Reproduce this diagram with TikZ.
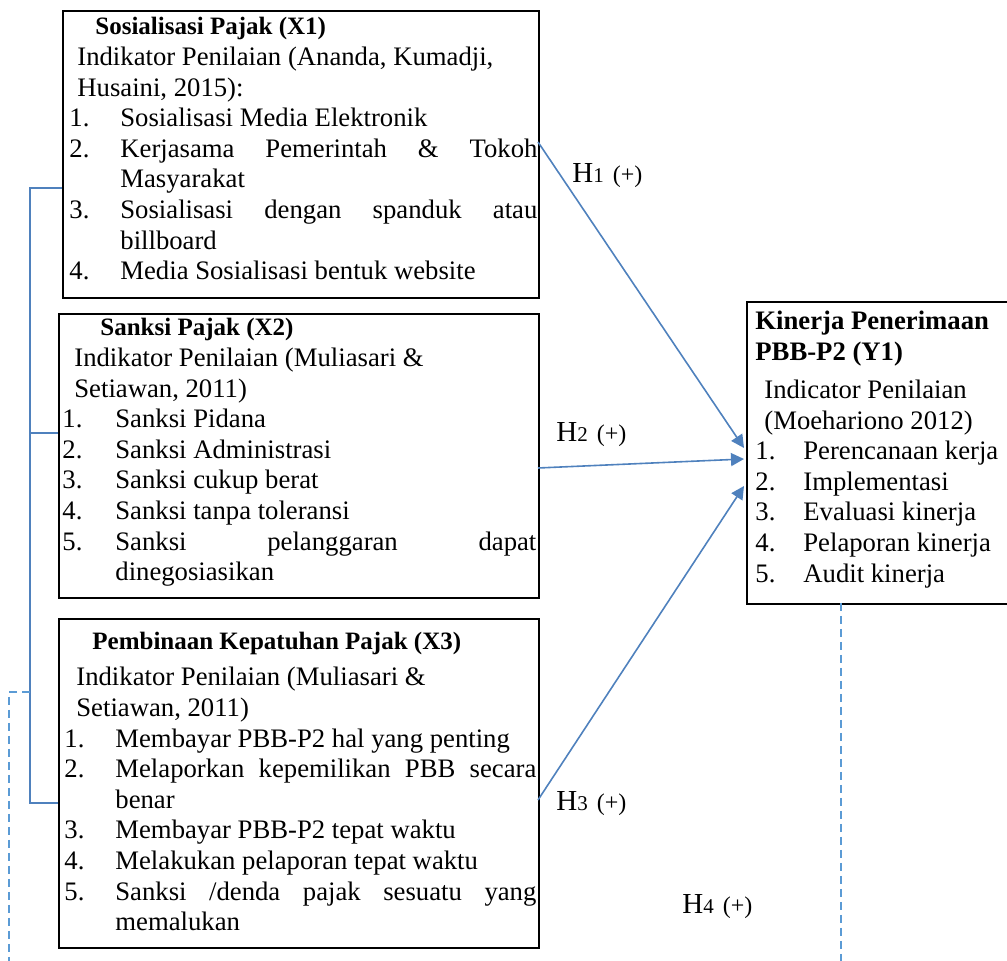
\documentclass[tikz,border=0pt]{standalone}
\usepackage{fontspec}
\setmainfont{Liberation Serif}
\usetikzlibrary{arrows.meta}
\definecolor{arrowblue}{HTML}{4F81BD}
\definecolor{dashblue}{HTML}{5B9BD5}
\newlength{\hangw}
\newcommand{\itm}[2]{\par\hangindent=\hangw\hangafter=1\noindent\makebox[\hangw][l]{#1}#2}
\newcommand{\bodyfont}{\fontsize{13.35}{15.3}\selectfont}
\newcommand{\hyplabel}[1]{{\fontsize{14.5}{15}\selectfont H}{\fontsize{10.5}{15}\selectfont #1}\hspace{4.5pt}{\fontsize{12}{15}\selectfont (+)}}
\tikzset{
  box/.style={draw=black, line width=1pt, inner sep=0pt, anchor=north west},
  txt/.style={inner sep=0pt, anchor=base west},
  link/.style={draw=arrowblue, line width=0.8pt},
  hyp/.style={-{Triangle[length=6.5pt,width=6.5pt]}, draw=arrowblue, line width=0.8pt},
  dashlink/.style={draw=dashblue, line width=0.8pt, dash pattern=on 4pt off 2.5pt},
  hlabel/.style={inner sep=0pt, anchor=west}
}
\begin{document}
\begin{tikzpicture}[x=0.5pt,y=-0.5pt]
\useasboundingbox (0,0) rectangle (1007,961);

% boxes
\node[box, minimum width=238pt, minimum height=143.5pt] (x1) at (62,10) {};
\node[box, minimum width=240pt, minimum height=142pt] (x2) at (58,313) {};
\node[box, minimum width=240pt, minimum height=164.5pt] (x3) at (58,618) {};
\node[box, minimum width=140pt, minimum height=151pt] (y1) at (746,301) {};

% texts
\node[txt] (x1t) at (69,35) {\begin{minipage}[t]{234pt}\setlength{\hangw}{25.5pt}\bodyfont
\hspace*{13pt}{\fontsize{12.5}{15.3}\selectfont\bfseries Sosialisasi Pajak (X1)}\\
\hspace*{4pt}Indikator Penilaian (Ananda, Kumadji,\\
\hspace*{4pt}Husaini, 2015):
\itm{1.}{Sosialisasi Media Elektronik}
\itm{2.}{Kerjasama Pemerintah \& Tokoh\linebreak Masyarakat}
\itm{3.}{Sosialisasi dengan spanduk atau\linebreak billboard}
\itm{4.}{Media Sosialisasi bentuk website}
\end{minipage}};

\node[txt] (x2t) at (62,336) {\begin{minipage}[t]{237pt}\setlength{\hangw}{26.5pt}\bodyfont
\hspace*{19pt}{\fontsize{12.5}{15.3}\selectfont\bfseries Sanksi Pajak (X2)}\\
\hspace*{6pt}Indikator Penilaian (Muliasari \&\\
\hspace*{6pt}Setiawan, 2011)
\itm{1.}{Sanksi Pidana}
\itm{2.}{Sanksi Administrasi}
\itm{3.}{Sanksi cukup berat}
\itm{4.}{Sanksi tanpa toleransi}
\itm{5.}{Sanksi pelanggaran dapat\linebreak dinegosiasikan}
\end{minipage}};

\node[txt] (x3t) at (64,650) {\begin{minipage}[t]{236pt}\setlength{\hangw}{25.5pt}\bodyfont
\hspace*{14pt}{\fontsize{12.5}{15.3}\selectfont\bfseries Pembinaan Kepatuhan Pajak (X3)}\par\vspace{2.7pt}
\hspace*{6pt}Indikator Penilaian (Muliasari \&\\
\hspace*{6pt}Setiawan, 2011)
\itm{1.}{Membayar PBB-P2 hal yang penting}
\itm{2.}{Melaporkan kepemilikan PBB secara\linebreak benar}
\itm{3.}{Membayar PBB-P2 tepat waktu}
\itm{4.}{Melakukan pelaporan tepat waktu}
\itm{5.}{Sanksi /denda pajak sesuatu yang\linebreak memalukan}
\end{minipage}};

\node[txt] (y1t) at (755,330) {\begin{minipage}[t]{130pt}\setlength{\hangw}{24pt}\bodyfont
{\bfseries Kinerja Penerimaan\\ PBB-P2 (Y1)}\par\vspace{3.7pt}
\hspace*{4.5pt}Indicator Penilaian\\
\hspace*{4.5pt}(Moehariono 2012)
\itm{1.}{Perencanaan kerja}
\itm{2.}{Implementasi}
\itm{3.}{Evaluasi kinerja}
\itm{4.}{Pelaporan kinerja}
\itm{5.}{Audit kinerja}
\end{minipage}};

% bracket on the left
\coordinate (b1) at (30,188);
\coordinate (b2) at (30,433);
\coordinate (b3) at (30,803);
\coordinate (bd) at (30,692);
\coordinate (dcorner) at (9,692);
\coordinate (dend) at (9,961);
\draw[link] (x1.west |- b1) -- (b1) -- (b3) -- (x3.west |- b3);
\draw[link] (b2) -- (x2.west |- b2);
\draw[dashlink] (bd) -- (dcorner) -- (dend);

% dashed from Y1
\coordinate (y1d) at (841,603);
\coordinate (y1e) at (841,961);
\draw[dashlink] (y1d) -- (y1e);

% hypothesis arrows
\coordinate (s1) at (538,142);
\coordinate (s2) at (538,468);
\coordinate (s3) at (538,800);
\coordinate (e1) at (744,448);
\coordinate (e2) at (744,459);
\coordinate (e3) at (744,486);
\draw[hyp] (s1) -- (e1);
\draw[hyp] (s2) -- (e2);
\draw[hyp] (s3) -- (e3);

% labels
\node[hlabel] (h1) at (572,176) {\hyplabel{1}};
\node[hlabel] (h2) at (556,435) {\hyplabel{2}};
\node[hlabel] (h3) at (556,804) {\hyplabel{3}};
\node[hlabel] (h4) at (682,907) {\hyplabel{4}};
\end{tikzpicture}
\end{document}
